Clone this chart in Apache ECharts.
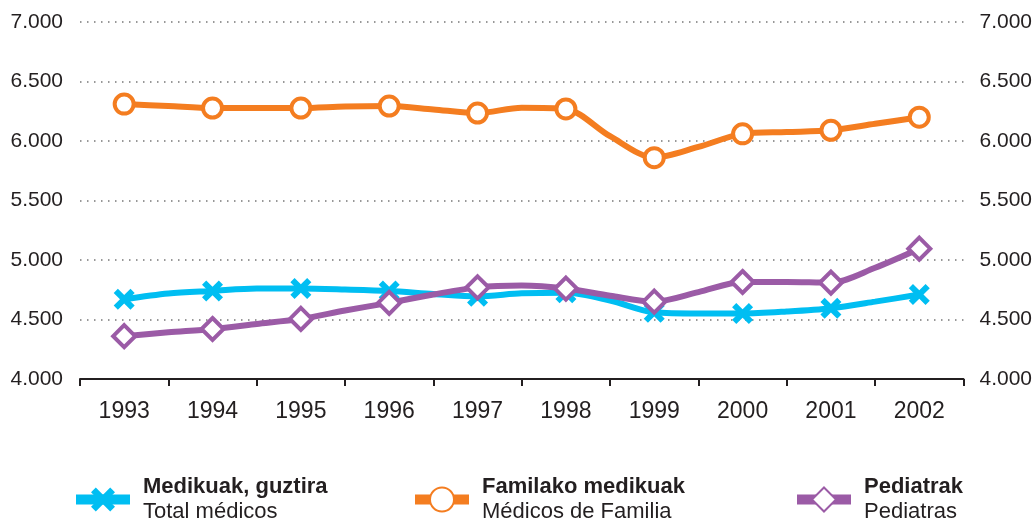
<!DOCTYPE html>
<html>
<head>
<meta charset="utf-8">
<script src="https://cdn.jsdelivr.net/npm/echarts@6/dist/echarts.min.js"></script>
<style>
  html, body { margin: 0; padding: 0; background: #fff; }
  #chart { width: 1035px; height: 521px; }
</style>
</head>
<body>
<div id="chart"></div>
<script>
// categories shown on the axis
const years = ['1993', '1994', '1995', '1996', '1997', '1998', '1999', '2000', '2001', '2002']
// the lines are drawn through half-year points, markers only on whole years
const xPos = [1993, 1993.5, 1994, 1994.5, 1995, 1995.5, 1996, 1996.5, 1997, 1997.5,
  1998, 1998.5, 1999, 1999.5, 2000, 2000.5, 2001, 2001.5, 2002]
const totalMedicos = [4670, 4718, 4740, 4760, 4760, 4752, 4740, 4715, 4695, 4720,
  4725, 4660, 4560, 4550, 4550, 4567, 4595, 4650, 4710]
const medicosFamilia = [6310, 6294, 6277, 6277, 6277, 6290, 6294, 6265, 6235, 6280,
  6269, 6040, 5860, 5950, 6060, 6075, 6090, 6145, 6200]
const pediatras = [4360, 4392, 4420, 4462, 4505, 4576, 4640, 4710, 4770, 4785,
  4760, 4700, 4650, 4730, 4815, 4815, 4810, 4935, 5095]
const yTicks = ['4.000', '4.500', '5.000', '5.500', '6.000', '6.500', '7.000']

const FONT = '"Liberation Sans", Arial, sans-serif'
const crossPath = 'path://M0,4 L4,0 L10,6 L16,0 L20,4 L14,10 L20,16 L16,20 L10,14 L4,20 L0,16 L6,10 Z'

let chart = echarts.init(document.getElementById('chart'))

// whole years get the marker, half years are plain line points
function pairs (vals) {
  return vals.map((v, i) => {
    if (i % 2) return { value: [xPos[i], v], symbol: 'none' }
    return [xPos[i], v]
  })
}

function makeSeries (name, vals, color, symbol, size, filled) {
  return {
    name: name,
    type: 'line',
    xAxisIndex: 1,
    yAxisIndex: 0,
    smooth: 0.3,
    data: pairs(vals),
    symbol: symbol,
    symbolSize: size,
    showAllSymbol: true,
    lineStyle: { color: color, width: 6 },
    itemStyle: filled
      ? { color: color, borderWidth: 0 }
      : { color: '#fff', borderColor: color, borderWidth: 4 },
    emphasis: { disabled: true },
    z: 3
  }
}

function legendFmt (name) {
  const parts = name.split('|')
  return '{b|' + parts[0] + '}\n{r|' + parts[1] + '}'
}

function makeLegend (name, left) {
  return {
    data: [name],
    left: left,
    top: 476,
    padding: 0,
    itemWidth: 54,
    itemHeight: 30,
    formatter: legendFmt,
    lineStyle: { width: 10 },
    textStyle: {
      padding: [0, 0, 0, 8],
      rich: {
        b: { fontFamily: FONT, fontSize: 22, fontWeight: 'bold', color: '#231f20', lineHeight: 25 },
        r: { fontFamily: FONT, fontSize: 22, color: '#231f20', lineHeight: 25 }
      }
    },
    selectedMode: false
  }
}

const nTotal = 'Medikuak, guztira|Total médicos'
const nFam = 'Familako medikuak|Médicos de Familia'
const nPed = 'Pediatrak|Pediatras'

chart.setOption({
  animation: false,
  grid: { left: 80, right: 71, top: 22, bottom: 142 },
  legend: [
    makeLegend(nTotal, 71),
    makeLegend(nFam, 410),
    makeLegend(nPed, 792)
  ],
  xAxis: [
    {
      type: 'category',
      data: years,
      boundaryGap: true,
      axisLine: { lineStyle: { color: '#231f20', width: 2 } },
      axisTick: { show: true, length: 7, lineStyle: { color: '#231f20', width: 2 } },
      axisLabel: { color: '#231f20', fontSize: 23, fontFamily: FONT, margin: 21 }
    },
    {
      type: 'value',
      min: 1992.5,
      max: 2002.5,
      show: false
    }
  ],
  yAxis: [
    {
      type: 'value',
      min: 4000,
      max: 7000,
      interval: 500,
      axisLine: { show: false },
      axisTick: { show: false },
      axisLabel: {
        color: '#231f20', fontSize: 21, fontFamily: FONT, margin: 17,
        formatter: function (v) { return yTicks[(v - 4000) / 500] }
      },
      splitLine: { lineStyle: { color: '#777', width: 1.5, type: [1.5, 5.5] } }
    },
    {
      type: 'value',
      min: 4000,
      max: 7000,
      interval: 500,
      position: 'right',
      axisLine: { show: false },
      axisTick: { show: false },
      axisLabel: {
        color: '#231f20', fontSize: 21, fontFamily: FONT, margin: 16,
        formatter: function (v) { return yTicks[(v - 4000) / 500] }
      },
      splitLine: { show: false }
    }
  ],
  series: [
    makeSeries(nTotal, totalMedicos, '#00bef2', crossPath, 21, true),
    makeSeries(nFam, medicosFamilia, '#f47d20', 'circle', 19, false),
    makeSeries(nPed, pediatras, '#9b5ba6', 'diamond', 22, false)
  ]
})
</script>
</body>
</html>
